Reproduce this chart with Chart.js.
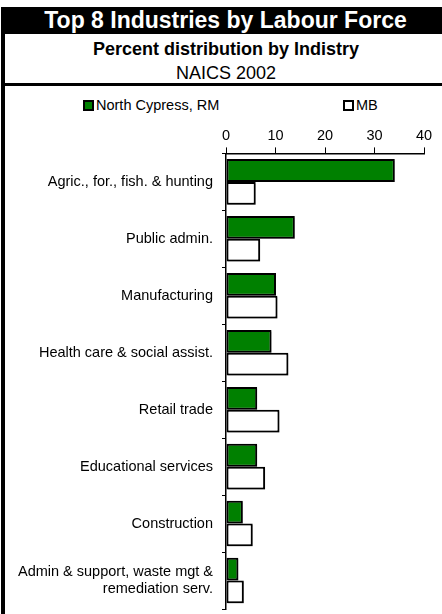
<!DOCTYPE html>
<html>
<head>
<meta charset="utf-8">
<script src="https://cdn.jsdelivr.net/npm/chart.js@4/dist/chart.umd.min.js"></script>
<style>
body { margin: 0; background: #fff; font-family: 'Liberation Sans', Arial, sans-serif; }
#page { position: relative; width: 442px; height: 614px; overflow: hidden; }
#frame { position: absolute; left: 1px; top: 7px; width: 4px; height: 607px; background: #000; }
#band { position: absolute; left: 1px; top: 7px; width: 441px; height: 27px; background: #000; color: #fff;
        font-weight: bold; font-size: 23px; line-height: 27px; text-align: center; padding-left: 8px; box-sizing: border-box; }
#sub { position: absolute; left: 8px; width: 436px; top: 39px; text-align: center; font-weight: bold; font-size: 18px; line-height: 20px; }
#naics { position: absolute; left: 8px; width: 436px; top: 63px; text-align: center; font-size: 18px; line-height: 20px; }
#rule { position: absolute; left: 1px; top: 83px; width: 441px; height: 3px; background: #000; }
#legend { position: absolute; left: 0; top: 97px; width: 442px; height: 18px; font-size: 14.5px; }
#legend .item { position: absolute; top: 0; white-space: nowrap; }
#legend .box { display: inline-block; width: 7px; height: 7px; border: 2px solid #000; margin-right: 2px; vertical-align: -1px; }
#wrap { position: absolute; left: 0; top: 88px; width: 442px; height: 526px; }
</style>
</head>
<body>
<div id="page">
  <div id="frame"></div>
  <div id="band">Top 8 Industries by Labour Force</div>
  <div id="sub">Percent distribution by Indistry</div>
  <div id="naics">NAICS 2002</div>
  <div id="rule"></div>
  <div id="legend"></div>
  <div id="wrap"><canvas id="chart" width="442" height="526"></canvas></div>
</div>
<script>
var categories = [
    'Agric., for., fish. & hunting',
    'Public admin.',
    'Manufacturing',
    'Health care & social assist.',
    'Retail trade',
    'Educational services',
    'Construction',
    ['Admin & support, waste mgt &', 'remediation serv.']
];
var seriesNames = ['North Cypress, RM', 'MB'];
var northCypress = [34.1, 13.9, 10.1, 9.2, 6.3, 6.3, 3.4, 2.5];
var manitoba = [6.0, 6.9, 10.4, 12.6, 10.8, 7.9, 5.4, 3.6];
var xTicks = [0, 10, 20, 30, 40];

var font = { family: "'Liberation Sans', Arial, sans-serif", size: 14.5 };

/* the bars in the original have a thin grey drop shadow */
var barShadow = {
    id: 'barShadow',
    beforeDatasetsDraw: function (c) {
        c.ctx.save();
        c.ctx.shadowColor = 'rgba(0,0,0,0.3)';
        c.ctx.shadowOffsetX = 1.5;
        c.ctx.shadowOffsetY = 1.5;
        c.ctx.shadowBlur = 0;
    },
    afterDatasetsDraw: function (c) {
        c.ctx.restore();
    }
};

var ctx = document.getElementById('chart').getContext('2d');
var chart = new Chart(ctx, {
    type: 'bar',
    data: {
        labels: categories,
        datasets: [{
            label: seriesNames[0],
            data: northCypress,
            backgroundColor: '#008000',
            borderColor: '#000',
            borderWidth: 2,
            borderSkipped: false
        }, {
            label: seriesNames[1],
            data: manitoba,
            backgroundColor: '#fff',
            borderColor: '#000',
            borderWidth: 2,
            borderSkipped: false
        }]
    },
    options: {
        indexAxis: 'y',
        responsive: false,
        animation: false,
        layout: { padding: { top: 36, right: 18, bottom: 5, left: 0 } },
        datasets: { bar: { categoryPercentage: 0.8, barPercentage: 1.0 } },
        scales: {
            x: {
                position: 'top',
                min: xTicks[0],
                max: xTicks[xTicks.length - 1],
                afterBuildTicks: function (s) {
                    s.ticks = xTicks.map(function (v) { return { value: v }; });
                },
                ticks: { color: '#000', font: font, padding: 3 },
                grid: { drawOnChartArea: false, color: '#000', tickLength: 6 },
                border: { color: '#000', width: 1.5 }
            },
            y: {
                afterFit: function (s) {
                    s.width = 226;
                    s.paddingTop = 0;
                    s.paddingBottom = 0;
                },
                ticks: { color: '#000', font: font, padding: 9 },
                grid: { drawOnChartArea: false, offset: true, color: '#000', tickLength: 4 },
                border: { color: '#000', width: 1.5 }
            }
        },
        plugins: {
            legend: { display: false },
            tooltip: { enabled: false }
        }
    },
    plugins: [barShadow]
});

/* legend built from the chart's own datasets */
var legendX = [83, 343];
var legend = document.getElementById('legend');
chart.data.datasets.forEach(function (ds, i) {
    var item = document.createElement('span');
    item.className = 'item';
    item.style.left = legendX[i] + 'px';
    item.innerHTML = '<span class="box" style="background:' + ds.backgroundColor + '"></span>' + ds.label;
    legend.appendChild(item);
});
</script>
</body>
</html>
